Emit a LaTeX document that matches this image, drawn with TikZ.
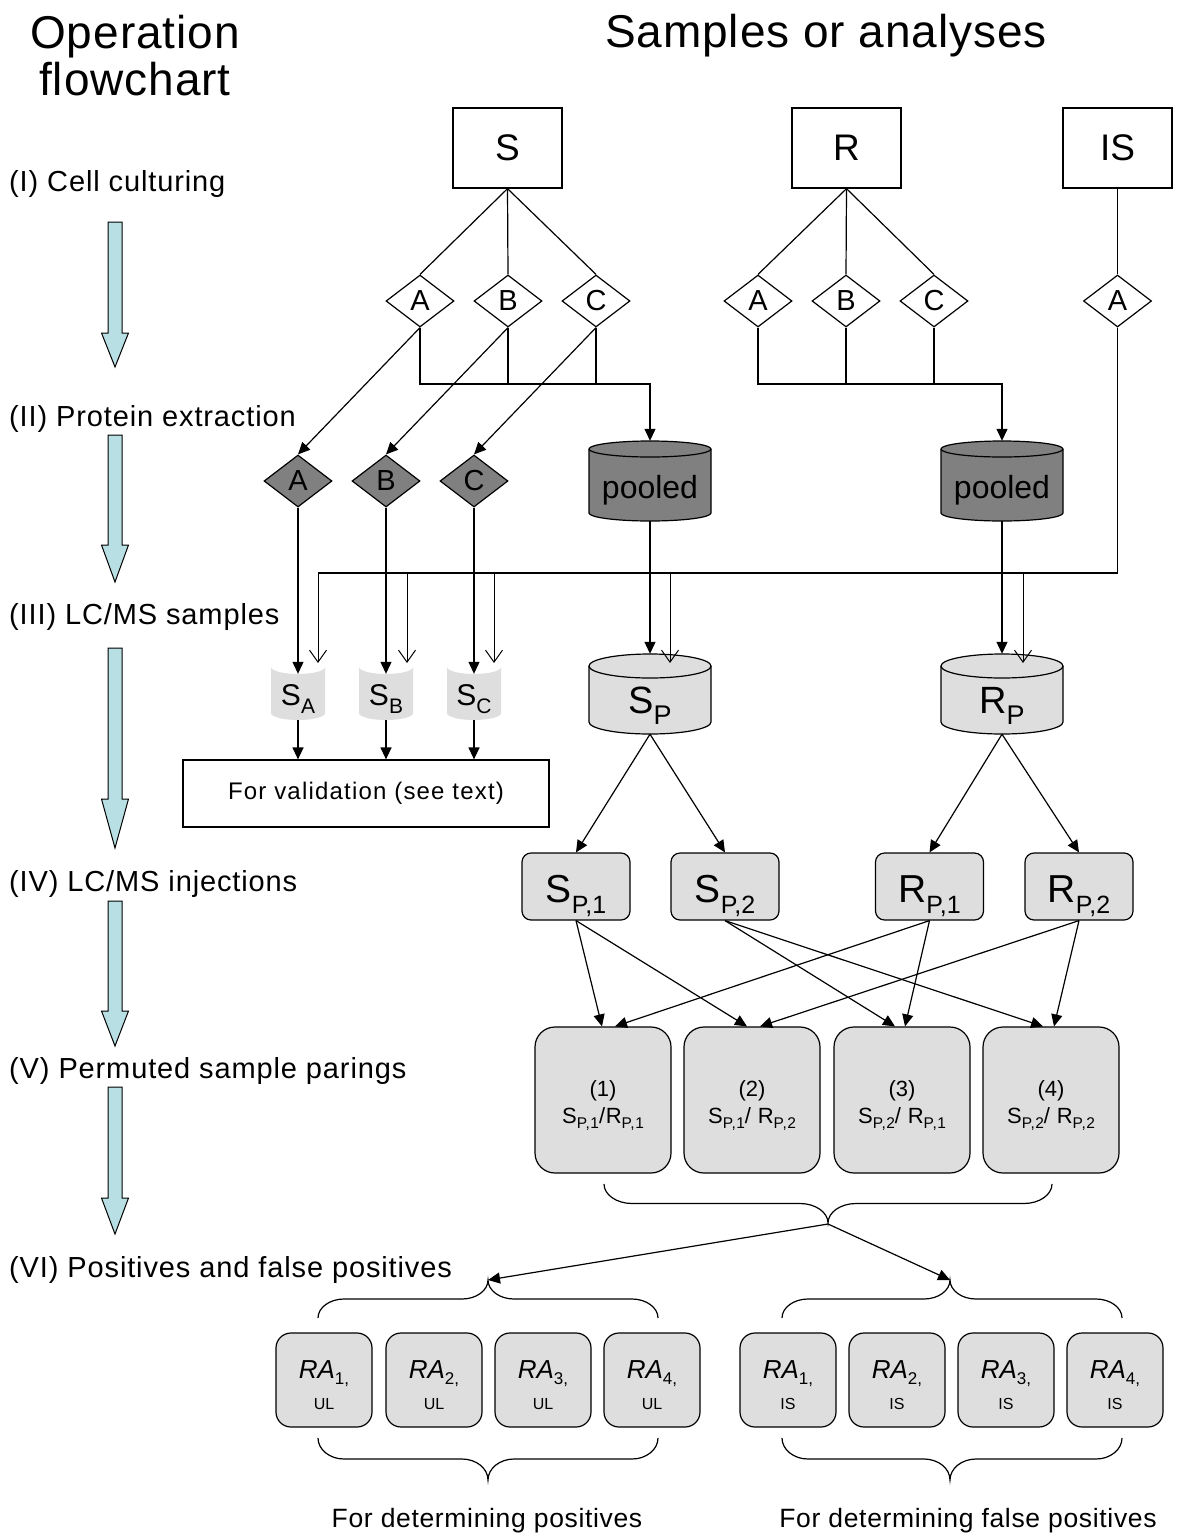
\documentclass[tikz,border=0pt]{standalone}
\usepackage{fontspec}
\setmainfont{Liberation Sans}
\usetikzlibrary{shapes.geometric,arrows.meta}
\definecolor{darkg}{RGB}{128,128,128}
\definecolor{lightg}{RGB}{222,222,222}
\definecolor{arrowc}{RGB}{184,223,227}
\newcommand\fsz[1]{\fontsize{#1}{#1}\selectfont}
\newcommand\lsub[3]{\raisebox{-#1pt}{\fsz{#2}#3}}
\newcommand\lsp[1]{\addfontfeature{LetterSpace=#1}}
% block arrow: top, head start, tip
\newcommand\barrow[3]{\draw[line width=1pt,fill=arrowc] (108,#1) -- (122,#1) -- (122,#2) -- (128.5,#2) -- (115,#3) -- (101.5,#2) -- (108,#2) -- cycle;}
% cylinder: cx, top, bottom, half width, ry, body options, front-rim options
\newcommand\cylshape[7]{%
 \path[#6] ({#1-#4},{#2+#5}) -- ({#1-#4},{#3-#5}) arc[start angle=180,end angle=0,x radius=#4,y radius=#5] -- ({#1+#4},{#2+#5}) arc[start angle=0,end angle=-180,x radius=#4,y radius=#5] -- cycle;
 \draw[#7] ({#1-#4},{#2+#5}) arc[start angle=180,end angle=0,x radius=#4,y radius=#5];}
\newcommand\smallcyl[1]{\fill[lightg] ({#1-27},667) arc[start angle=180,end angle=0,x radius=27,y radius=7] -- ({#1+27},713) arc[start angle=0,end angle=180,x radius=27,y radius=7] -- cycle;}
% brace: x1, x2, xtip, y0, h, c
\newcommand\hbrace[6]{\draw[line width=1.2pt] (#1,#4) .. controls (#1,{#4+0.275*(#5)}) and ({#1+0.45*(#6)},{#4+0.5*(#5)}) .. ({#1+#6},{#4+0.5*(#5)}) -- ({#3-#6},{#4+0.5*(#5)}) .. controls ({#3-0.45*(#6)},{#4+0.5*(#5)}) and (#3,{#4+0.725*(#5)}) .. (#3,{#4+#5}) .. controls (#3,{#4+0.725*(#5)}) and ({#3+0.45*(#6)},{#4+0.5*(#5)}) .. ({#3+#6},{#4+0.5*(#5)}) -- ({#2-#6},{#4+0.5*(#5)}) .. controls ({#2-0.45*(#6)},{#4+0.5*(#5)}) and (#2,{#4+0.275*(#5)}) .. (#2,#4);}

\begin{document}
\begin{tikzpicture}[x=1pt,y=-1pt,
  ln/.style={line width=1.2pt},
  thinln/.style={line width=1pt},
  arr/.style={-{Triangle[length=12pt,width=11pt]}},
  oarr/.style={-{Straight Barb[length=12pt,width=17pt]}},
  lbl/.style={anchor=base,inner sep=0pt},
  stg/.style={anchor=base west,inner sep=0pt,font={\fsz{29}\lsp{3}}},
  topbox/.style={draw,line width=1.3pt,minimum width=109pt,minimum height=80pt,inner sep=0pt,font=\fsz{37}},
  wdia/.style={diamond,draw,fill=white,line width=1.2pt,minimum width=68pt,minimum height=52pt,inner sep=0pt,font=\fsz{29}},
  ddia/.style={wdia,fill=darkg},
  cylbig/.style={inner sep=0pt,minimum width=122pt,minimum height=80pt},
  cylsmall/.style={inner sep=0pt,minimum width=54pt,minimum height=46pt},
  ibox/.style={draw,fill=lightg,line width=1.2pt,rounded corners=9pt,minimum width=108pt,minimum height=67pt,inner sep=0pt},
  pbox/.style={draw,fill=lightg,line width=1.2pt,rounded corners=20pt,minimum width=136pt,minimum height=146pt,inner sep=0pt},
  rbox/.style={draw,fill=lightg,line width=1.2pt,rounded corners=15pt,minimum width=96pt,minimum height=94pt,inner sep=0pt}
]
\fill[white] (0,0) rectangle (1176,1534);
\useasboundingbox (0,0) rectangle (1176,1534);

% titles
\node[lbl,font={\fsz{46}\lsp{2}}] (t1) at (135,48) {Operation};
\node[lbl,font={\fsz{46}\lsp{2}}] (t2) at (135,95) {flowchart};
\node[lbl,font={\fsz{46}\lsp{2}}] (t3) at (826,47) {Samples or analyses};

% stage labels
\node[stg] (st1) at (9,191) {(I) Cell culturing};
\node[stg] (st2) at (9,426) {(II) Protein extraction};
\node[stg] (st3) at (9,624) {(III) LC/MS samples};
\node[stg] (st4) at (9,891) {(IV) LC/MS injections};
\node[stg] (st5) at (9,1078) {(V) Permuted sample parings};
\node[stg] (st6) at (9,1277) {(VI) Positives and false positives};

% block arrows
\barrow{222}{333}{367}
\barrow{435}{545}{582}
\barrow{648}{799}{848}
\barrow{901}{1011}{1046}
\barrow{1087}{1198}{1234}

% top boxes and diamonds
\node[topbox] (S) at (507.5,148) {S};
\node[topbox] (R) at (846.5,148) {R};
\node[topbox] (IS) at (1117.5,148) {IS};
\node[wdia] (sA) at (420,301) {A};
\node[wdia] (sB) at (508,301) {B};
\node[wdia] (sC) at (596,301) {C};
\node[wdia] (rA) at (758,301) {A};
\node[wdia] (rB) at (846,301) {B};
\node[wdia] (rC) at (934,301) {C};
\node[wdia] (iA) at (1117.5,301) {A};
\draw[ln] (S.south) -- (sA.north);
\draw[ln] (S.south) -- (sB.north);
\draw[ln] (S.south) -- (sC.north);
\draw[ln] (R.south) -- (rA.north);
\draw[ln] (R.south) -- (rB.north);
\draw[ln] (R.south) -- (rC.north);
\draw[ln] (IS.south) -- (iA.north);

% extracted protein diamonds
\node[ddia] (dA) at (298,481) {A};
\node[ddia] (dB) at (386,481) {B};
\node[ddia] (dC) at (474,481) {C};
\draw[ln,arr] (sA.south) -- (dA.north);
\draw[ln,arr] (sB.south) -- (dB.north);
\draw[ln,arr] (sC.south) -- (dC.north);

% pooled cylinders
\cylshape{650}{441}{521}{61}{8}{draw,fill=darkg,line width=1.2pt}{line width=1.2pt}
\cylshape{1002}{441}{521}{61}{8}{draw,fill=darkg,line width=1.2pt}{line width=1.2pt}
\node[cylbig] (pS) at (650,481) {};
\node[cylbig] (pR) at (1002,481) {};
\node[lbl,font=\fsz{32}] (pSt) at (650,498) {pooled};
\node[lbl,font=\fsz{32}] (pRt) at (1002,498) {pooled};
\coordinate (jS) at (650,384);
\coordinate (jR) at (1002,384);
\draw[ln,arr] (sA.south) |- (jS) -- (pS.north);
\draw[ln] (sB.south) -- (sB.south |- jS);
\draw[ln] (sC.south) -- (sC.south |- jS);
\draw[ln,arr] (rA.south) |- (jR) -- (pR.north);
\draw[ln] (rB.south) -- (rB.south |- jR);
\draw[ln] (rC.south) -- (rC.south |- jR);

% LC/MS sample cylinders
\smallcyl{298}
\smallcyl{386}
\smallcyl{474}
\node[cylsmall] (sa) at (298,697) {};
\node[cylsmall] (sb) at (386,697) {};
\node[cylsmall] (sc) at (474,697) {};
\node[lbl,font=\fsz{30}] (saT) at (298,705) {S\lsub{8}{21}{A}};
\node[lbl,font=\fsz{30}] (sbT) at (386,705) {S\lsub{8}{21}{B}};
\node[lbl,font=\fsz{30}] (scT) at (474,705) {S\lsub{8}{21}{C}};
\cylshape{650}{654}{734}{61}{12}{draw,fill=lightg,line width=1.2pt}{line width=1.2pt}
\cylshape{1002}{654}{734}{61}{12}{draw,fill=lightg,line width=1.2pt}{line width=1.2pt}
\node[cylbig] (SP) at (650,694) {};
\node[cylbig] (RP) at (1002,694) {};
\node[lbl,font=\fsz{38}] (SPt) at (650,713) {S\lsub{11}{27}{P}};
\node[lbl,font=\fsz{38}] (RPt) at (1002,713) {R\lsub{11}{27}{P}};

\draw[ln,arr] (dA.south) -- (sa.north);
\draw[ln,arr] (dB.south) -- (sb.north);
\draw[ln,arr] (dC.south) -- (sc.north);
\draw[ln,arr] (pS.south) -- (SP.north);
\draw[ln,arr] (pR.south) -- (RP.north);

% internal standard distribution
\coordinate (jI) at (318,573);
\coordinate (oA) at (318,663);
\coordinate (oB) at (407,663);
\coordinate (oC) at (494,663);
\coordinate (oP) at (670,663);
\coordinate (oR) at (1023,663);
\draw[line width=1.4pt] (iA.south) |- (jI);
\draw[thinln,oarr] (jI) -- (oA);
\draw[thinln,oarr] (oB |- jI) -- (oB);
\draw[thinln,oarr] (oC |- jI) -- (oC);
\draw[thinln,oarr] (oP |- jI) -- (oP);
\draw[thinln,oarr] (oR |- jI) -- (oR);

% validation
\node[draw,line width=1.2pt,minimum width=366pt,minimum height=67pt,inner sep=0pt,font={\fsz{24}\lsp{5}}] (val) at (366,793.5) {For validation (see text)};
\draw[ln,arr] (sa.south) -- (sa.south |- val.north);
\draw[ln,arr] (sb.south) -- (sb.south |- val.north);
\draw[ln,arr] (sc.south) -- (sc.south |- val.north);

% injections
\node[ibox] (SP1) at (576,886.5) {};
\node[ibox] (SP2) at (725,886.5) {};
\node[ibox] (RP1) at (929.5,886.5) {};
\node[ibox] (RP2) at (1079,886.5) {};
\node[lbl,font=\fsz{39}] (SP1t) at (576,902) {S\lsub{11}{25}{P,1}};
\node[lbl,font=\fsz{39}] (SP2t) at (725,902) {S\lsub{11}{25}{P,2}};
\node[lbl,font=\fsz{39}] (RP1t) at (929.5,902) {R\lsub{11}{25}{P,1}};
\node[lbl,font=\fsz{39}] (RP2t) at (1079,902) {R\lsub{11}{25}{P,2}};
\draw[ln,arr] (SP.south) -- (SP1.north);
\draw[ln,arr] (SP.south) -- (SP2.north);
\draw[ln,arr] (RP.south) -- (RP1.north);
\draw[ln,arr] (RP.south) -- (RP2.north);

% permuted pairings
\node[pbox] (q1) at (603,1100) {};
\node[pbox] (q2) at (752,1100) {};
\node[pbox] (q3) at (902,1100) {};
\node[pbox] (q4) at (1051,1100) {};
\node[lbl,font=\fsz{22}] (q1a) at (603,1096) {(1)};
\node[lbl,font=\fsz{22}] (q2a) at (752,1096) {(2)};
\node[lbl,font=\fsz{22}] (q3a) at (902,1096) {(3)};
\node[lbl,font=\fsz{22}] (q4a) at (1051,1096) {(4)};
\node[lbl,font={\fsz{22}\lsp{3}}] (q1b) at (603,1123) {S\lsub{5}{15.5}{P,1}/R\lsub{5}{15.5}{P,1}};
\node[lbl,font={\fsz{22}\lsp{3}}] (q2b) at (752,1123) {S\lsub{5}{15.5}{P,1}/ R\lsub{5}{15.5}{P,2}};
\node[lbl,font={\fsz{22}\lsp{3}}] (q3b) at (902,1123) {S\lsub{5}{15.5}{P,2}/ R\lsub{5}{15.5}{P,1}};
\node[lbl,font={\fsz{22}\lsp{3}}] (q4b) at (1051,1123) {S\lsub{5}{15.5}{P,2}/ R\lsub{5}{15.5}{P,2}};
\draw[ln,arr] (SP1.south) -- ([xshift=-1pt]q1.north);
\draw[ln,arr] (SP1.south) -- ([xshift=-5pt]q2.north);
\draw[ln,arr] (SP2.south) -- ([xshift=-7pt]q3.north);
\draw[ln,arr] (SP2.south) -- ([xshift=-8pt]q4.north);
\draw[ln,arr] (RP1.south) -- ([xshift=12pt]q1.north);
\draw[ln,arr] (RP1.south) -- ([xshift=3pt]q3.north);
\draw[ln,arr] (RP2.south) -- ([xshift=8pt]q2.north);
\draw[ln,arr] (RP2.south) -- ([xshift=3pt]q4.north);

% braces
\hbrace{604}{1052}{828}{1184}{39}{28}
\coordinate (bt) at (828,1224);
\hbrace{318}{658}{488}{1318}{-38}{26}
\hbrace{782}{1122}{950}{1318}{-38}{26}
\coordinate (btl) at (488,1280);
\coordinate (btr) at (950,1280);
\draw[ln,arr] (bt) -- (btl);
\draw[ln,arr] (bt) -- (btr);
\hbrace{318}{658}{488}{1438}{42}{26}
\hbrace{782}{1122}{950}{1438}{42}{26}

% ratio boxes
\foreach \n/\x/\k/\t in {u1/324/1/UL,u2/434/2/UL,u3/543/3/UL,u4/652/4/UL,v1/788/1/IS,v2/897/2/IS,v3/1006/3/IS,v4/1115/4/IS}{
  \node[rbox] (\n) at (\x,1380) {};
  \node[lbl,font=\fsz{26}] (\n a) at (\x,1378) {\textit{RA}\lsub{6}{17}{\k,}};
  \node[lbl,font=\fsz{16}] (\n b) at (\x,1409) {\t};
}

% bottom captions
\node[lbl,font={\fsz{26.5}\lsp{2.5}}] (c1) at (487,1527) {For determining positives};
\node[lbl,font={\fsz{26.5}\lsp{2.5}}] (c2) at (968,1527) {For determining false positives};
\end{tikzpicture}
\end{document}
